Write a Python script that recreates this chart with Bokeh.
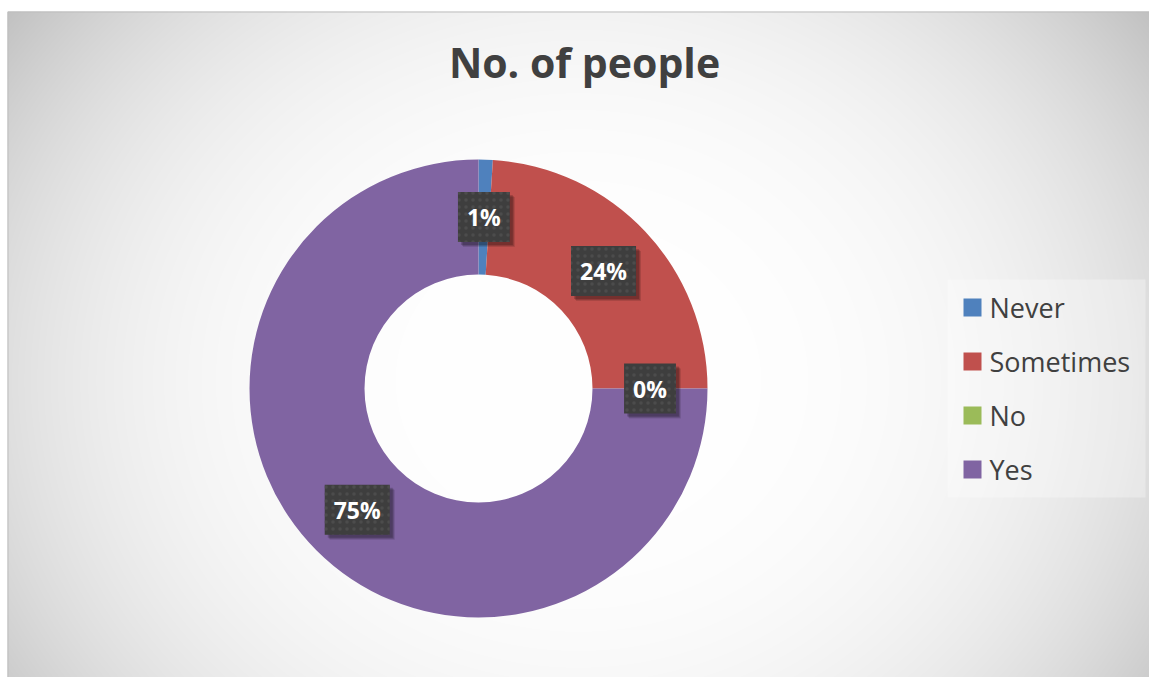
import numpy as np
from bokeh.plotting import figure
from bokeh.models import ColumnDataSource, Range1d
from bokeh.core.properties import value
from bokeh.embed import file_html
from bokeh.resources import INLINE

# ---- data ----
categories = ["Never", "Sometimes", "No", "Yes"]
counts = [1, 24, 0, 75]
colors = ["#4F81BD", "#C0504D", "#9BBB59", "#8064A2"]
chart_title = "No. of people"

W, H = 1149, 677
p = figure(width=W, height=H, x_range=Range1d(0, W), y_range=Range1d(0, H),
           output_backend="svg", toolbar_location=None, min_border=0,
           x_axis_location=None, y_axis_location=None)
p.grid.visible = False
p.outline_line_color = None
p.background_fill_color = "white"
p.border_fill_color = "white"

# ---- chart-area background (radial-ish gradient) ----
x0, top0 = 7, 11
bw, bh = W - x0, H - top0
xs = x0 + np.arange(bw) + 0.5
ys = H - (np.arange(bh) + 0.5)
X, Y = np.meshgrid(xs, ys)
u = np.abs(X - 578) / 571.0
v = np.abs(Y - 380) / 365.0
D = 61 * (0.65 * u ** 2 + 0.35 * v ** 2) ** 1.52
g = np.clip(255 - D, 0, 255).astype(np.uint8)
img = np.empty((bh, bw), dtype=np.uint32)
view = img.view(dtype=np.uint8).reshape((bh, bw, 4))
view[..., 0] = g
view[..., 1] = g
view[..., 2] = g
view[..., 3] = 255
p.image_rgba(image=[img], x=x0, y=0, dw=bw, dh=bh)
p.quad(left=x0 + 0.5, right=W + 2, top=H - top0 - 0.5, bottom=-2,
       fill_alpha=0, line_color="#bdbdbd", line_width=1)

# ---- donut ----
cx, cy = 478, H - 388
r_in, r_out = 114, 229
total = float(sum(counts))
cum = np.cumsum([0] + counts)
start = np.pi / 2 - 2 * np.pi * cum[:-1] / total
end = np.pi / 2 - 2 * np.pi * cum[1:] / total
nz = [i for i, c in enumerate(counts) if c > 0]
wsrc = ColumnDataSource(dict(start=[start[i] for i in nz], end=[end[i] for i in nz],
                             color=[colors[i] for i in nz]))
p.annular_wedge(x=cx, y=cy, inner_radius=r_in, outer_radius=r_out,
                start_angle="start", end_angle="end", direction="clock",
                fill_color="color", line_color=None, source=wsrc)

# ---- data labels ----
mid = (start + end) / 2
r_mid = (r_in + r_out) / 2
lsrc = ColumnDataSource(dict(
    x=cx + r_mid * np.cos(mid),
    y=cy + r_mid * np.sin(mid),
    t=[f"{round(100 * c / total)}%" for c in counts],
))
for off, a in ((5, 0.12), (4, 0.15), (3, 0.18)):
    p.text(x="x", y="y", text="t", source=lsrc, text_align="center", text_baseline="middle",
           text_font=value("Open Sans"), text_font_style="bold", text_font_size=value("23px"),
           text_alpha=0, background_fill_color="black", background_fill_alpha=a,
           padding=9, x_offset=off, y_offset=off)
p.text(x="x", y="y", text="t", source=lsrc, text_align="center", text_baseline="middle",
       text_font=value("Open Sans"), text_font_style="bold", text_font_size=value("23px"),
       text_color="white", background_fill_color="#3e3e3e",
       background_hatch_pattern="dot", background_hatch_color="#4c4c4c",
       background_hatch_scale=7, background_hatch_weight=1,
       padding=9)

# ---- title ----
p.text(x=[584], y=[H - 61], text=[chart_title], text_align="center", text_baseline="middle",
       text_font=value("Open Sans"), text_font_style="bold", text_font_size=value("41px"),
       text_color="#404040")

# ---- legend (manual) ----
lg_left, lg_top, lg_right, lg_bottom = 947, 279, 1145, 497
p.quad(left=lg_left, right=lg_right, top=H - lg_top, bottom=H - lg_bottom,
       fill_color="white", fill_alpha=0.3, line_color=None)
ly = [H - (307 + 54 * i) for i in range(len(categories))]
legsrc = ColumnDataSource(dict(x=[972] * len(categories), y=ly, color=colors,
                               tx=[989] * len(categories), label=categories))
p.rect(x="x", y="y", width=18, height=18, fill_color="color", line_color=None, source=legsrc)
p.text(x="tx", y="y", text="label", source=legsrc, text_align="left", text_baseline="middle",
       text_font=value("Open Sans"), text_font_size=value("27px"), text_color="#404040")

open("out.html", "w").write(file_html(p, INLINE))
